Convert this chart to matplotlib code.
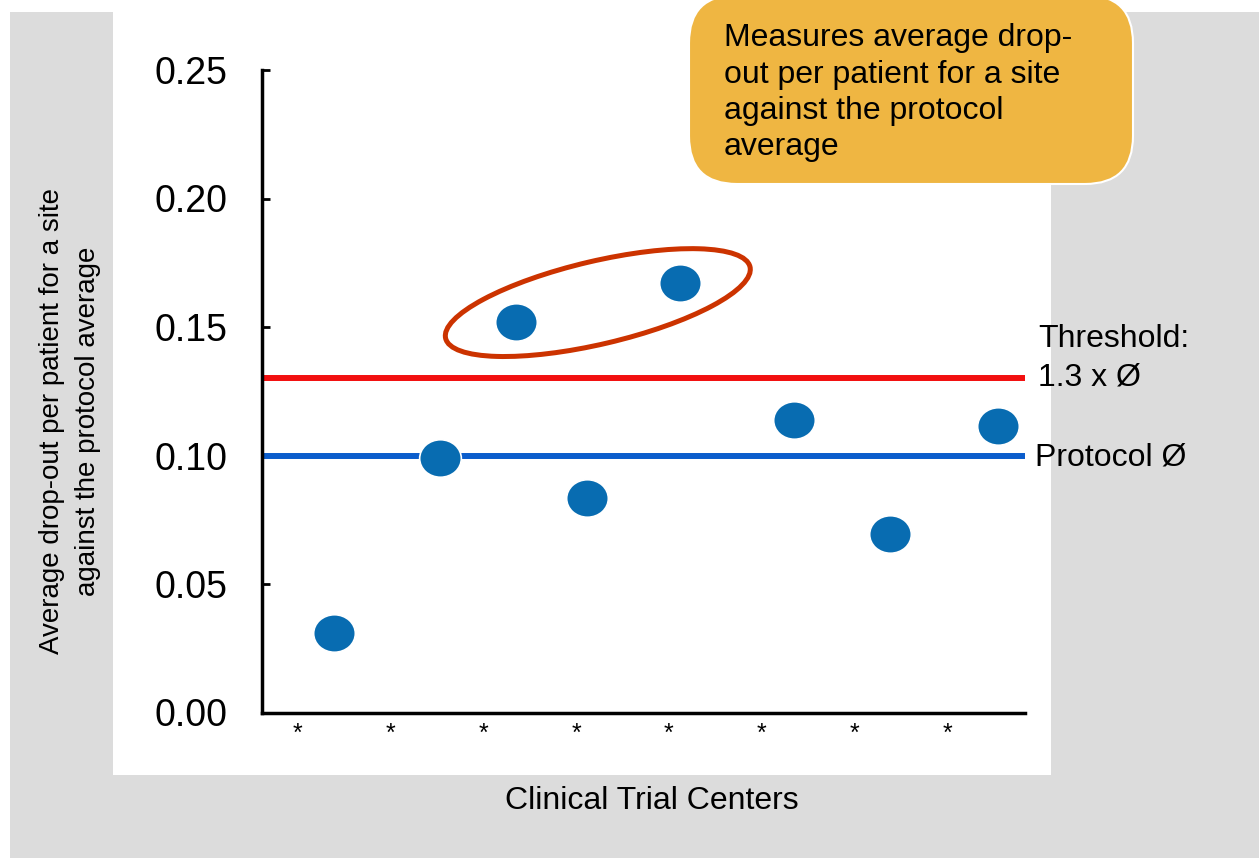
import numpy as np
import matplotlib
matplotlib.use('Agg')
import matplotlib.pyplot as plt
from matplotlib.patches import Rectangle, FancyBboxPatch, Ellipse
from matplotlib.path import Path
from matplotlib.transforms import Affine2D, ScaledTranslation
from matplotlib.ticker import FormatStrFormatter

plt.rcParams['font.family'] = ['Liberation Sans', 'DejaVu Sans']

# drop-out per patient, one value per trial site
site_pos = [1.39, 2.53, 3.35, 4.12, 5.12, 6.35, 7.38, 8.55]
dropout = [0.031, 0.099, 0.152, 0.0835, 0.167, 0.114, 0.0695, 0.1115]
center_ticks = [1, 2, 3, 4, 5, 6, 7, 8]
center_labels = ['*'] * 8
flagged = [2, 4]          # sites above threshold, circled

protocol_avg = 0.10
threshold = 0.13
y_ticks = [0.00, 0.05, 0.10, 0.15, 0.20, 0.25]

ylabel_text = 'Average drop-out per patient for a site\nagainst the protocol average'
xlabel_text = 'Clinical Trial Centers'
threshold_text = 'Threshold:\n1.3 x Ø'
protocol_text = 'Protocol Ø'
note_text = 'Measures average drop-\nout per patient for a site\nagainst the protocol\naverage'

W, H = 1259, 858
fig = plt.figure(figsize=(W / 100, H / 100), dpi=100)
fig.patch.set_facecolor('white')
# layout helper: pixel coords, y measured downward from the top
px = Affine2D().scale(1 / W, -1 / H).translate(0, 1) + fig.transFigure

fig.patches.append(Rectangle((10, 12), W - 10, H - 12, transform=px,
                             facecolor='#dcdcdc', edgecolor='none', zorder=-2))
fig.patches.append(Rectangle((113, 12), 938, 763, transform=px,
                             facecolor='white', edgecolor='none', zorder=-1))

ax = fig.add_axes([262 / W, 1 - 712.5 / H, 763 / W, 642.5 / H])
ax.set_zorder(1)
ax.patch.set_visible(False)

ax.set_xlim(0.615, 8.84)
ax.set_ylim(0, 0.25)

ax.axhline(threshold, color='#f20f0f', lw=4.3, zorder=2)
ax.axhline(protocol_avg, color='#0b5dcc', lw=4.3, zorder=2)

dot = Path.unit_circle().transformed(Affine2D().scale(1, 0.9))
ax.plot(site_pos, dropout, linestyle='none', marker=dot, ms=30,
        mfc='#086cb1', mec='white', mew=1.2, zorder=3)

# ring around the flagged sites, built in screen space so it stays round
pts = ax.transData.transform(np.column_stack([np.take(site_pos, flagged),
                                              np.take(dropout, flagged)]))
dx, dy = pts[1] - pts[0]
ang = np.degrees(np.arctan2(dy, dx))
dist_in = np.hypot(dx, dy) / fig.dpi
xc = np.mean(np.take(site_pos, flagged))
yc = np.mean(np.take(dropout, flagged))
ring = Ellipse((0, 0), width=dist_in + 1.44, height=0.83, angle=ang,
               fill=False, edgecolor='#cc3300', lw=3.6,
               transform=fig.dpi_scale_trans + ScaledTranslation(xc, yc, ax.transData),
               zorder=4, clip_on=False)
ax.add_patch(ring)

for s in ['top', 'right']:
    ax.spines[s].set_visible(False)
for s in ['left', 'bottom']:
    ax.spines[s].set_linewidth(2.5)
    ax.spines[s].set_color('black')

ax.set_yticks(y_ticks)
ax.yaxis.set_major_formatter(FormatStrFormatter('%.2f'))
ax.tick_params(axis='y', direction='in', length=6, width=2, pad=25,
               labelsize=27)
ax.set_xticks(center_ticks)
ax.set_xticklabels(center_labels)
ax.tick_params(axis='x', length=0, pad=7, labelsize=18)

# va='baseline' on multi-line text pins the last line
ax.annotate(threshold_text, xy=(1, threshold), xycoords=('axes fraction', 'data'),
            xytext=(9.4, -4.8), textcoords='offset points', fontsize=23,
            va='baseline', ha='left', linespacing=1.33, annotation_clip=False)
ax.annotate(protocol_text, xy=(1, protocol_avg), xycoords=('axes fraction', 'data'),
            xytext=(7, -7), textcoords='offset points', fontsize=23,
            va='baseline', ha='left', annotation_clip=False)

fig.text(70, 421, ylabel_text, transform=px, rotation=90, fontsize=20,
         ha='center', va='center', multialignment='center', linespacing=1.47)
fig.text(652, 801, xlabel_text, transform=px, fontsize=23,
         ha='center', va='center')

# orange note box
box = FancyBboxPatch((689, -5), 444, 189, transform=px,
                     boxstyle='round,pad=0,rounding_size=48',
                     facecolor='#efb642', edgecolor='white', lw=1.5, zorder=3)
fig.patches.append(box)
fig.text(724, 155, note_text, transform=px, fontsize=23, ha='left',
         va='baseline', linespacing=1.27, zorder=4)

fig.savefig('out.png', dpi=100)
